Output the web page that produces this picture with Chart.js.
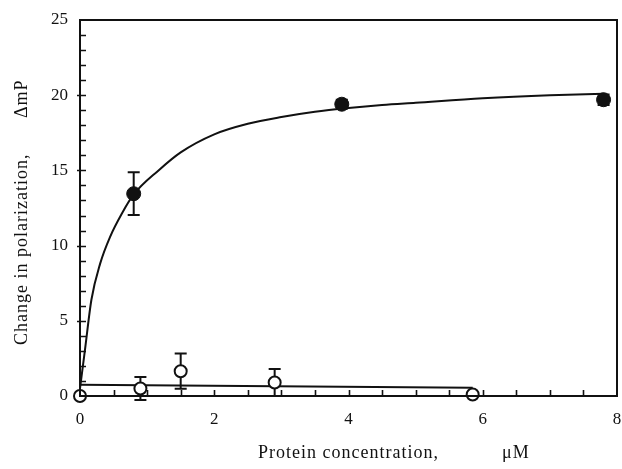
<!DOCTYPE html>
<html>
<head>
<meta charset="utf-8">
<script src="https://cdn.jsdelivr.net/npm/chart.js@4.4.0/dist/chart.umd.min.js"></script>
<style>
html,body{margin:0;padding:0;background:#fff}
</style>
</head>
<body>
<canvas id="c" width="622" height="469"></canvas>
<script>
// fitted binding curve
const fitX = [0, 0.075, 0.17, 0.3, 0.45, 0.62, 0.8, 1.17, 1.5, 2, 2.5, 3, 3.5, 4, 4.5, 5, 6, 7, 7.8]
const fitY = [0.5, 3.1, 6.4, 8.8, 10.6, 12.1, 13.4, 15.0, 16.2, 17.4, 18.1, 18.55, 18.9, 19.15, 19.35, 19.5, 19.8, 20.0, 20.1]
// flat fit for control
const flatX = [0, 5.85]
const flatY = [0.75, 0.55]
// filled circles
const filledX = [0.8, 3.9, 7.8]
const filledY = [13.45, 19.4, 19.7]
const filledErr = [1.42, 0.3, 0.35]
// open circles
const openX = [0, 0.9, 1.5, 2.9, 5.85]
const openY = [0, 0.5, 1.65, 0.9, 0.1]
const openErr = [0, 0.77, 1.17, 0.9, 0]

const xTicks = [0, 2, 4, 6, 8]
const yTicks = [0, 5, 10, 15, 20, 25]

const serif = "'Liberation Serif', 'DejaVu Serif', serif"
const pts = (xs, ys) => xs.map((x, i) => ({x: x, y: ys[i]}))

function errBars(ctx, xs, ys, es, sx, sy){
  xs.forEach((x, i) => {
    if (!es[i]) return
    const px = sx.getPixelForValue(x)
    const t = sy.getPixelForValue(ys[i] + es[i])
    const b = sy.getPixelForValue(ys[i] - es[i])
    ctx.beginPath()
    ctx.moveTo(px, t); ctx.lineTo(px, b)
    ctx.moveTo(px - 6, t); ctx.lineTo(px + 6, t)
    ctx.moveTo(px - 6, b); ctx.lineTo(px + 6, b)
    ctx.stroke()
  })
}

const framePlugin = {
  id: 'frame',
  beforeDatasetsDraw(chart){
    const ctx = chart.ctx, sx = chart.scales.x, sy = chart.scales.y
    ctx.save()
    ctx.strokeStyle = '#111'
    ctx.lineWidth = 2
    errBars(ctx, filledX, filledY, filledErr, sx, sy)
    errBars(ctx, openX, openY, openErr, sx, sy)
    ctx.restore()
  },
  afterDraw(chart){
    const ctx = chart.ctx, a = chart.chartArea, sx = chart.scales.x, sy = chart.scales.y
    ctx.save()
    ctx.strokeStyle = '#111'
    ctx.lineWidth = 2
    ctx.strokeRect(a.left, a.top, a.right - a.left, a.bottom - a.top)
    ctx.lineWidth = 1.6
    ctx.beginPath()
    for (let v = 1; v < 25; v++){
      const py = Math.round(sy.getPixelForValue(v)) + 0.5
      const major = v % 5 === 0
      ctx.moveTo(a.left - (major ? 3 : 0), py)
      ctx.lineTo(a.left + 6, py)
    }
    for (let v = 0.5; v < 8; v += 0.5){
      const px = Math.round(sx.getPixelForValue(v)) + 0.5
      ctx.moveTo(px, a.bottom)
      ctx.lineTo(px, a.bottom - 6)
    }
    ctx.stroke()
    // axis titles
    ctx.fillStyle = '#111'
    ctx.font = '18px ' + serif
    ctx.letterSpacing = '1px'
    ctx.textAlign = 'left'
    ctx.textBaseline = 'middle'
    ctx.fillText('Protein concentration,', 258, 453)
    ctx.fillText('μM', 502, 453)
    ctx.translate(22, 0)
    ctx.rotate(-Math.PI / 2)
    ctx.fillText('Change in polarization,', -345, 0)
    ctx.fillText('ΔmP', -118, 0)
    ctx.restore()
  }
}

new Chart(document.getElementById('c'), {
  type: 'scatter',
  data: {
    datasets: [
      {
        data: pts(filledX, filledY),
        pointRadius: 7,
        pointBackgroundColor: '#111',
        pointBorderColor: '#111',
        pointBorderWidth: 1,
        clip: false
      },
      {
        data: pts(openX, openY),
        pointRadius: 6,
        pointBackgroundColor: '#fff',
        pointBorderColor: '#111',
        pointBorderWidth: 2,
        clip: false
      },
      {
        type: 'line',
        data: pts(fitX, fitY),
        borderColor: '#111',
        borderWidth: 2,
        pointRadius: 0,
        cubicInterpolationMode: 'monotone',
        clip: false
      },
      {
        type: 'line',
        data: pts(flatX, flatY),
        borderColor: '#111',
        borderWidth: 2,
        pointRadius: 0,
        clip: false
      }
    ]
  },
  options: {
    responsive: false,
    animation: false,
    layout: {autoPadding: false, padding: {top: 20, right: 5, left: 0, bottom: 0}},
    plugins: {legend: {display: false}, tooltip: {enabled: false}},
    scales: {
      x: {
        type: 'linear',
        min: 0, max: 8,
        afterFit(s){ s.height = 73; s.paddingLeft = 0; s.paddingRight = 0 },
        afterBuildTicks(s){ s.ticks = xTicks.map(v => ({value: v})) },
        grid: {display: false, drawTicks: false},
        border: {display: false},
        ticks: {color: '#111', padding: 13, font: {family: serif, size: 17}, maxRotation: 0}
      },
      y: {
        min: 0, max: 25,
        afterFit(s){ s.width = 80; s.paddingTop = 0; s.paddingBottom = 0 },
        afterBuildTicks(s){ s.ticks = yTicks.map(v => ({value: v})) },
        grid: {display: false, drawTicks: false},
        border: {display: false},
        ticks: {color: '#111', padding: 12, font: {family: serif, size: 17}}
      }
    }
  },
  plugins: [framePlugin]
})
</script>
</body>
</html>
